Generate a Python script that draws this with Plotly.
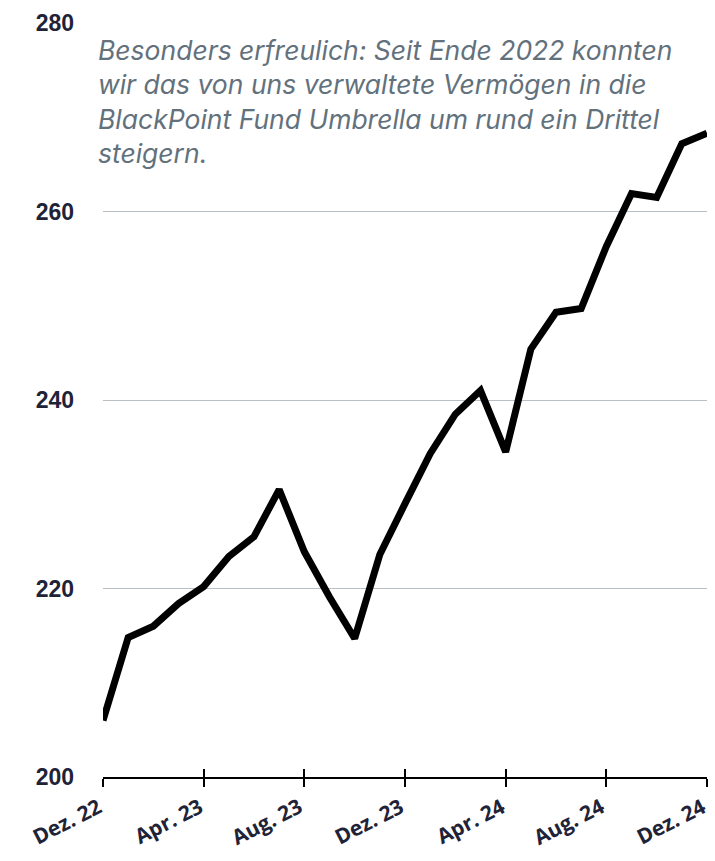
import plotly.graph_objects as go

months = ["Dez. 22", "Jan. 23", "Feb. 23", "Mär. 23", "Apr. 23", "Mai 23", "Jun. 23", "Jul. 23",
          "Aug. 23", "Sep. 23", "Okt. 23", "Nov. 23", "Dez. 23", "Jan. 24", "Feb. 24", "Mär. 24",
          "Apr. 24", "Mai 24", "Jun. 24", "Jul. 24", "Aug. 24", "Sep. 24", "Okt. 24", "Nov. 24", "Dez. 24"]
values = [206.0, 214.8, 216.0, 218.4, 220.2, 223.4, 225.5, 230.5, 223.9, 219.1, 214.7, 223.6, 229.0,
          234.3, 238.5, 241.0, 234.5, 245.4, 249.3, 249.7, 256.3, 261.9, 261.5, 267.2, 268.3]
tick_labels = ["Dez. 22", "Apr. 23", "Aug. 23", "Dez. 23", "Apr. 24", "Aug. 24", "Dez. 24"]
y_ticks = [200, 220, 240, 260, 280]
note = ("Besonders erfreulich: Seit Ende 2022 konnten<br>wir das von uns verwaltete Vermögen in die<br>"
        "BlackPoint Fund Umbrella um rund ein Drittel<br>steigern.")

navy = "#1f2338"
idx = list(range(len(months)))
tick_pos = [months.index(t) for t in tick_labels]

fig = go.Figure()
fig.add_trace(go.Scatter(x=idx, y=values, mode="lines",
                         line=dict(color="black", width=7), hoverinfo="skip", showlegend=False))
# invisible trace on overlay axis for the inner half of the tick marks
fig.add_trace(go.Scatter(x=idx, y=values, mode="lines", xaxis="x2",
                         line=dict(color="rgba(0,0,0,0)", width=0), hoverinfo="skip", showlegend=False))

annotations = [dict(text=note, xref="paper", yref="paper", x=-0.012, y=0.988,
                    xanchor="left", yanchor="top", align="left", showarrow=False,
                    font=dict(family="Inter", size=26.5, color="#62717c", style="italic"))]
for p, t in zip(tick_pos, tick_labels):
    annotations.append(dict(text=t, x=p, xref="x", y=0, yref="paper", xanchor="right", yanchor="top",
                            xshift=6, yshift=-12, textangle=-27, showarrow=False,
                            font=dict(family="Open Sans", size=21, color=navy, weight="bold")))

fig.update_layout(
    width=715, height=861,
    margin=dict(l=103, r=8, t=23, b=84),
    plot_bgcolor="white", paper_bgcolor="white",
    xaxis=dict(range=[0, len(months) - 1], tickmode="array", tickvals=tick_pos,
               showticklabels=False, ticks="outside", ticklen=8, tickwidth=1.5, tickcolor="black",
               showline=True, linecolor="black", linewidth=2, showgrid=False, zeroline=False,
               automargin=False),
    xaxis2=dict(overlaying="x", side="bottom", anchor="y", range=[0, len(months) - 1],
                tickmode="array", tickvals=tick_pos, showticklabels=False,
                ticks="inside", ticklen=8, tickwidth=1.5, tickcolor="black",
                showline=False, showgrid=False, zeroline=False, automargin=False),
    yaxis=dict(range=[200, 280], tickvals=y_ticks, showgrid=True, gridcolor="#b8bfc5", gridwidth=1,
               zeroline=False, showline=False, ticks="", ticklabelstandoff=28, automargin=False,
               tickfont=dict(family="Liberation Sans", size=23, color=navy, weight="bold")),
    annotations=annotations,
)
fig.write_html("out.html", config={"displayModeBar": False},
               post_script="document.body.style.margin='0';")
